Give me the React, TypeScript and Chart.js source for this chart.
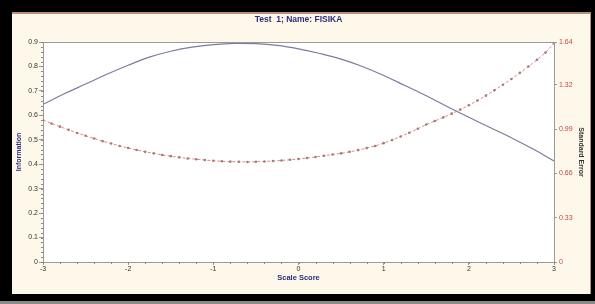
import { useEffect, useRef } from 'react';
import { Chart, registerables } from 'chart.js';
Chart.register(...registerables);

const titleText = 'Test  1; Name: FISIKA';
const xTitle = 'Scale Score';
const leftTitle = 'Information';
const rightTitle = 'Standard Error';

const xTicks = [-3, -2, -1, 0, 1, 2, 3];
const leftTicks = [0, 0.1, 0.2, 0.3, 0.4, 0.5, 0.6, 0.7, 0.8, 0.9];
const rightTicks = [0, 0.33, 0.66, 0.99, 1.32, 1.64];

const infoTheta = [-3, -2.75, -2.5, -2.25, -2, -1.75, -1.5, -1.25, -1, -0.75, -0.5, -0.25, 0, 0.25, 0.5, 0.75, 1, 1.25, 1.5, 1.75, 2, 2.25, 2.5, 2.75, 3];
const infoValues = [0.645, 0.688, 0.728, 0.768, 0.805, 0.838, 0.862, 0.879, 0.889, 0.894, 0.893, 0.886, 0.872, 0.853, 0.83, 0.8, 0.763, 0.722, 0.68, 0.635, 0.592, 0.55, 0.508, 0.463, 0.413];

const seTheta = [
  -3, -2.9, -2.8, -2.7, -2.6, -2.5, -2.4, -2.3, -2.2, -2.1,
  -2, -1.9, -1.8, -1.7, -1.6, -1.5, -1.4, -1.3, -1.2, -1.1,
  -1, -0.9, -0.8, -0.7, -0.6, -0.5, -0.4, -0.3, -0.2, -0.1,
  0, 0.1, 0.2, 0.3, 0.4, 0.5, 0.6, 0.7, 0.8, 0.9,
  1, 1.1, 1.2, 1.3, 1.4, 1.5, 1.6, 1.7, 1.8, 1.9,
  2, 2.1, 2.2, 2.3, 2.4, 2.5, 2.6, 2.7, 2.8, 2.9, 3,
];
const seValues = [
  1.059, 1.033, 1.009, 0.985, 0.962, 0.941, 0.921, 0.901, 0.883, 0.865,
  0.85, 0.835, 0.821, 0.81, 0.798, 0.789, 0.78, 0.772, 0.766, 0.76,
  0.755, 0.751, 0.748, 0.747, 0.746, 0.747, 0.749, 0.753, 0.757, 0.762,
  0.768, 0.775, 0.783, 0.792, 0.801, 0.81, 0.821, 0.834, 0.849, 0.865,
  0.886, 0.909, 0.936, 0.963, 0.993, 1.025, 1.051, 1.078, 1.106, 1.136,
  1.168, 1.203, 1.24, 1.28, 1.321, 1.364, 1.41, 1.457, 1.507, 1.561, 1.63,
];

const FONT = "'Liberation Sans', Arial, sans-serif";
const AXIS_COLOR = '#9a9a9a';
const NAVY = '#2c2c7c';

const framePlugin = {
  id: 'frame',
  beforeDraw(chart: any) {
    const { ctx, chartArea: a } = chart;
    ctx.save();
    ctx.fillStyle = '#ffffff';
    ctx.fillRect(a.left, a.top, a.right - a.left, a.bottom - a.top);
    ctx.restore();
  },
  afterDraw(chart: any) {
    const { ctx, chartArea: a, scales } = chart;
    ctx.save();
    ctx.strokeStyle = AXIS_COLOR;
    ctx.lineWidth = 1;
    ctx.beginPath();
    ctx.moveTo(a.left, a.top + 0.5);
    ctx.lineTo(a.right, a.top + 0.5);
    ctx.stroke();
    // minor ticks
    ctx.strokeStyle = '#888';
    ctx.beginPath();
    const y = scales.y;
    for (let i = 0; i <= 45; i++) {
      const v = y.min + (i * (y.max - y.min)) / 45;
      const py = Math.round(y.getPixelForValue(v)) + 0.5;
      ctx.moveTo(a.left - 2, py);
      ctx.lineTo(a.left, py);
    }
    const x = scales.x;
    for (let i = 0; i <= 30; i++) {
      const v = x.min + (i * (x.max - x.min)) / 30;
      const px = Math.round(x.getPixelForValue(v)) + 0.5;
      ctx.moveTo(px, a.bottom);
      ctx.lineTo(px, a.bottom + 2);
    }
    ctx.stroke();
    ctx.restore();
  },
};

export default function App() {
  const ref = useRef<HTMLCanvasElement>(null);
  useEffect(() => {
    if (!ref.current) return;
    const chart = new Chart(ref.current, {
      type: 'line',
      data: {
        datasets: [
          {
            label: 'Information',
            data: infoTheta.map((t, i) => ({ x: t, y: infoValues[i] })),
            yAxisID: 'y',
            borderColor: '#7a7d9c',
            borderWidth: 1.2,
            pointRadius: 0,
            tension: 0.4,
            fill: false,
          },
          {
            label: 'Standard Error',
            data: seTheta.map((t, i) => ({ x: t, y: seValues[i] })),
            yAxisID: 'y1',
            borderColor: 'rgba(205,110,110,0.8)',
            borderWidth: 1,
            borderDash: [3, 2],
            pointRadius: 1.3,
            pointBackgroundColor: '#a87878',
            pointBorderWidth: 0,
            tension: 0,
            fill: false,
          },
        ],
      },
      options: {
        animation: false,
        responsive: false,
        maintainAspectRatio: false,
        layout: { padding: 0 },
        plugins: {
          legend: { display: false },
          tooltip: { enabled: false },
          title: {
            display: true,
            text: titleText,
            color: NAVY,
            fullSize: false,
            font: { family: FONT, size: 8.5, weight: 'bold' },
            padding: { top: 3, bottom: 16.8 },
          },
        },
        scales: {
          x: {
            type: 'linear',
            min: -3,
            max: 3,
            afterBuildTicks: (s: any) => {
              s.ticks = xTicks.map((v) => ({ value: v }));
            },
            afterFit: (s: any) => {
              s.height = 32;
            },
            ticks: {
              color: '#333',
              font: { family: FONT, size: 7 },
              padding: 0,
              maxRotation: 0,
              callback: (v: any) => String(v),
            },
            grid: { display: true, drawOnChartArea: false, tickLength: 3, color: AXIS_COLOR },
            border: { color: AXIS_COLOR, width: 1 },
            title: {
              display: true,
              text: xTitle,
              color: NAVY,
              font: { family: FONT, size: 7.5, weight: 'bold' },
              padding: { top: 0, bottom: 12 },
            },
          },
          y: {
            type: 'linear',
            position: 'left',
            min: 0,
            max: 0.9,
            afterBuildTicks: (s: any) => {
              s.ticks = leftTicks.map((v) => ({ value: v }));
            },
            afterFit: (s: any) => {
              s.width = 31;
            },
            ticks: {
              color: '#333',
              font: { family: FONT, size: 7 },
              padding: 1,
              callback: (v: any) => String(v),
            },
            grid: { display: true, drawOnChartArea: false, tickLength: 4, color: AXIS_COLOR },
            border: { color: AXIS_COLOR, width: 1 },
            title: {
              display: true,
              text: leftTitle,
              color: NAVY,
              font: { family: FONT, size: 7, weight: 'bold' },
              padding: { top: 3, bottom: 0 },
            },
          },
          y1: {
            type: 'linear',
            position: 'right',
            min: 0,
            max: 1.64,
            afterBuildTicks: (s: any) => {
              s.ticks = rightTicks.map((v) => ({ value: v }));
            },
            afterFit: (s: any) => {
              s.width = 37;
            },
            ticks: {
              color: '#c04848',
              font: { family: FONT, size: 7 },
              padding: 2,
              callback: (v: any) => String(v),
            },
            grid: { display: true, drawOnChartArea: false, tickLength: 3, color: AXIS_COLOR },
            border: { color: AXIS_COLOR, width: 1 },
            title: {
              display: true,
              text: rightTitle,
              color: '#333',
              font: { family: FONT, size: 7, weight: 'bold' },
              padding: { top: 6, bottom: 0 },
            },
          },
        },
      },
      plugins: [framePlugin],
    } as any);
    return () => chart.destroy();
  }, []);

  return (
    <div style={{ position: 'fixed', left: 0, top: 0, width: 595, height: 304, background: '#000', overflow: 'hidden' }}>
      <div style={{ position: 'absolute', left: 0, top: 301, width: 595, height: 3, background: '#8a8a8a' }} />
      <div
        style={{
          position: 'absolute',
          left: 12,
          top: 12,
          width: 579,
          height: 282,
          background: '#fdf8ea',
          boxShadow: 'inset 0 2px 0 #b8907c, inset -1px 0 0 #b8907c',
        }}
      >
        <canvas ref={ref} width={579} height={282} style={{ display: 'block', width: 579, height: 282 }} />
      </div>
    </div>
  );
}
